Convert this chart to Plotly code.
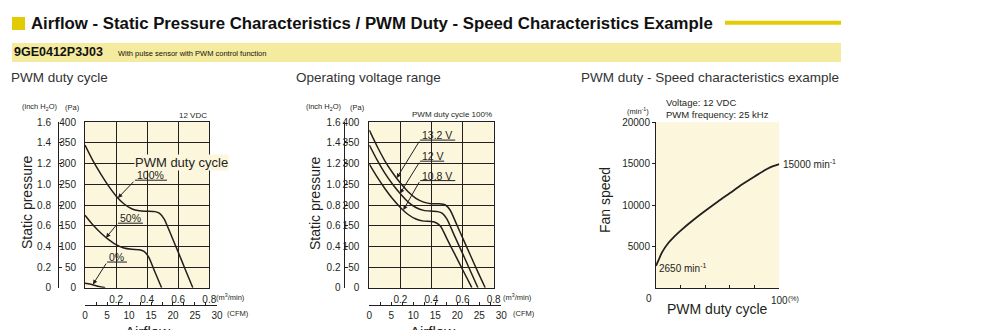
import plotly.graph_objects as go

W, H = 1000, 330
def px(x): return x / W
def py(y): return 1 - y / H

REG = "Liberation Sans, Arial, sans-serif"
INK = "#231F20"
CREAM = "#FCF6DC"
YEL = "#E2CB00"
BAND = "#F5EB9E"

# ---------------- data ----------------
# Chart 1: PWM duty cycle (12 VDC)
flow_100 = [0, 0.05, 0.1, 0.15, 0.2, 0.25, 0.3, 0.35, 0.4, 0.45, 0.48, 0.51, 0.55, 0.6, 0.65, 0.694]
pres_100 = [345, 308, 276, 247, 222, 203, 191, 186, 185, 184, 180, 166, 131, 86, 40, 0]
flow_50 = [0, 0.05, 0.1, 0.15, 0.2, 0.25, 0.3, 0.35, 0.38, 0.41, 0.45, 0.493]
pres_50 = [175, 152, 133, 117, 104, 96, 93, 92, 88, 74, 38, 0]
flow_0 = [0, 0.03, 0.06, 0.09, 0.13]
pres_0 = [11, 9, 6, 3, 0]

# Chart 2: operating voltage range (PWM 100%)
flow_132 = [0, 0.05, 0.1, 0.15, 0.2, 0.25, 0.3, 0.35, 0.4, 0.45, 0.49, 0.52, 0.56, 0.6, 0.65, 0.7, 0.746]
pres_132 = [381, 342, 307, 278, 253, 232, 216, 207, 203, 203, 200, 188, 155, 121, 79, 37, 0]
flow_120 = [0, 0.05, 0.1, 0.15, 0.2, 0.25, 0.3, 0.35, 0.4, 0.44, 0.47, 0.5, 0.55, 0.6, 0.65, 0.699]
pres_120 = [345, 309, 277, 250, 227, 207, 194, 187, 185, 184, 180, 166, 124, 83, 41, 0]
flow_108 = [0, 0.05, 0.1, 0.15, 0.2, 0.25, 0.3, 0.35, 0.4, 0.43, 0.46, 0.5, 0.55, 0.6, 0.66]
pres_108 = [299, 268, 240, 215, 194, 177, 166, 161, 160, 157, 148, 118, 81, 44, 0]

# Chart 3: PWM duty vs speed
duty = [0, 2, 5, 10, 15, 20, 30, 40, 50, 60, 70, 80, 90, 95, 100]
speed = [2650, 3300, 4300, 5400, 6200, 6900, 8150, 9300, 10400, 11450, 12500, 13450, 14350, 14700, 14950]

# ticks
m3_ticks = [0.2, 0.4, 0.6, 0.8]
m3_labels = ["0.2", "0.4", "0.6", "0.8"]
cfm_ticks = [0, 2.5, 5, 7.5, 10, 12.5, 15, 17.5, 20, 22.5, 25, 27.5, 30]
cfm_labels = ["0", "", "5", "", "10", "", "15", "", "20", "", "25", "", "30"]
pa_ticks = [0, 50, 100, 150, 200, 250, 300, 350, 400]
inch_ticks = [0, 0.2, 0.4, 0.6, 0.8, 1.0, 1.2, 1.4, 1.6]
inch_labels = ["0", "0.2", "0.4", "0.6", "0.8", "1.0", "1.2", "1.4", "1.6"]
speed_ticks = [5000, 10000, 15000, 20000]
speed_labels = ["5000", "10000", "15000", "20000"]
duty_ticks = [0, 20, 40, 60, 80, 100]
duty_labels = ["", "", "", "", "", "100"]
CFM_PER_M3 = 35.3147

PX_PER_M3 = 124.3 / 0.8

fig = go.Figure()
line = dict(color=INK, width=1.5, shape="spline", smoothing=0.6)
for xs, ys in [(flow_100, pres_100), (flow_50, pres_50), (flow_0, pres_0)]:
    fig.add_trace(go.Scatter(x=xs, y=ys, mode="lines", line=line, xaxis="x", yaxis="y",
                             hoverinfo="skip", showlegend=False))
for xs, ys in [(flow_132, pres_132), (flow_120, pres_120), (flow_108, pres_108)]:
    fig.add_trace(go.Scatter(x=xs, y=ys, mode="lines", line=line, xaxis="x3", yaxis="y3",
                             hoverinfo="skip", showlegend=False))
fig.add_trace(go.Scatter(x=duty, y=speed, mode="lines", line=dict(color=INK, width=1.8, shape="spline"),
                         xaxis="x5", yaxis="y5", hoverinfo="skip", showlegend=False))
# empty traces so the auxiliary (CFM / inch H2O) axes get drawn
for xa, ya in [("x2", "y6"), ("x", "y2"), ("x4", "y7"), ("x3", "y4")]:
    fig.add_trace(go.Scatter(x=[None], y=[None], xaxis=xa, yaxis=ya, showlegend=False, hoverinfo="skip"))

L1, L2, L3 = 85, 369.3, 656
TOP, BOT = 122.3, 287.7
ydom = [py(BOT), py(TOP)]
d1 = [px(L1), px(L1 + 124.3)]
d2 = [px(L2), px(L2 + 124.3)]
d3 = [px(L3), px(779.3)]
tickfont = dict(family=REG, size=10, color=INK)

def main_x(dom, anchor):
    return dict(domain=dom, anchor=anchor, range=[0, 0.8], tickvals=m3_ticks, ticktext=m3_labels,
                showgrid=True, gridcolor=INK, gridwidth=1, showline=True, linecolor=INK, linewidth=1,
                mirror=True, ticks="", zeroline=False, tickfont=tickfont, ticklabelstandoff=2,
                automargin=False, fixedrange=True)

def main_y(anchor, standoff):
    return dict(domain=ydom, anchor=anchor, range=[0, 400], tickvals=pa_ticks, showgrid=True,
                gridcolor=INK, gridwidth=1, showline=True, linecolor=INK, linewidth=1, mirror=True,
                ticks="", zeroline=False, tickfont=tickfont, ticklabelstandoff=standoff,
                automargin=False, fixedrange=True)

def cfm_x(left, anchor):
    return dict(domain=[px(left), px(left + 30 / CFM_PER_M3 * PX_PER_M3)], anchor=anchor, side="bottom",
                range=[0, 30], tickvals=cfm_ticks, ticktext=cfm_labels, showgrid=False, showline=True,
                linecolor=INK, linewidth=1, ticks="inside", ticklen=3, tickcolor=INK,
                zeroline=False, tickfont=tickfont, ticklabelstandoff=1, automargin=False, fixedrange=True)

def inch_y(over, pos, standoff):
    return dict(overlaying=over, anchor="free", position=pos, side="left", range=[0, 1.6],
                tickvals=inch_ticks, ticktext=inch_labels, showgrid=False, showline=True,
                linecolor=INK, linewidth=1, ticks="inside", ticklen=3, tickcolor=INK,
                zeroline=False, tickfont=tickfont, ticklabelstandoff=standoff, automargin=False,
                fixedrange=True)

def dummy_y():
    return dict(domain=[py(305.2), py(305)], showline=False, showgrid=False, zeroline=False,
                showticklabels=False, ticks="", range=[0, 1], automargin=False, fixedrange=True)

fig.update_layout(
    width=W, height=H, autosize=False, margin=dict(l=0, r=0, t=0, b=0, autoexpand=False),
    paper_bgcolor="white", plot_bgcolor="rgba(0,0,0,0)", showlegend=False,
    xaxis=main_x(d1, "y"), yaxis=main_y("x", 6),
    xaxis2=cfm_x(L1, "y6"), yaxis2=inch_y("y", px(58), 5),
    xaxis3=main_x(d2, "y3"), yaxis3=main_y("x3", 7),
    xaxis4=cfm_x(L2, "y7"), yaxis4=inch_y("y3", px(343.5), 1),
    yaxis6=dummy_y(), yaxis7=dummy_y(),
    xaxis5=dict(domain=d3, anchor="y5", range=[0, 100], tickvals=duty_ticks, ticktext=duty_labels,
                showgrid=False, showline=True, linecolor=INK, linewidth=1, ticks="inside", ticklen=3,
                tickcolor=INK, zeroline=False, tickfont=tickfont, ticklabelstandoff=3,
                automargin=False, fixedrange=True),
    yaxis5=dict(domain=ydom, anchor="x5", range=[0, 20000], tickvals=speed_ticks, ticktext=speed_labels,
                showgrid=False, showline=True, linecolor=INK, linewidth=1, ticks="outside", ticklen=3,
                tickcolor=INK, zeroline=False, tickfont=tickfont, ticklabelstandoff=0,
                automargin=False, fixedrange=True),
)

# ---------------- shapes ----------------
shapes = [
    dict(type="rect", xref="paper", yref="paper", x0=px(12), x1=px(25), y0=py(30), y1=py(17),
         fillcolor=YEL, line=dict(width=0)),
    dict(type="line", xref="paper", yref="paper", x0=px(725), x1=px(841), y0=py(22.7), y1=py(22.7),
         line=dict(color=YEL, width=4)),
    dict(type="rect", xref="paper", yref="paper", x0=px(12), x1=px(841), y0=py(62), y1=py(43),
         fillcolor=BAND, line=dict(width=0), layer="below"),
]
for dom in (d1, d2, d3):
    shapes.append(dict(type="rect", xref="paper", yref="paper", x0=dom[0], x1=dom[1],
                       y0=ydom[0], y1=ydom[1], fillcolor=CREAM, line=dict(width=0), layer="below"))

ann = []
def text(x, y, s, size=11, xanchor="left", yanchor="middle", color=INK, angle=0, bg=None, **kw):
    d = dict(x=x, y=y, text=s, showarrow=False, xanchor=xanchor, yanchor=yanchor,
             font=dict(family=REG, size=size, color=color), textangle=angle, borderpad=0, **kw)
    if bg:
        d["bgcolor"] = bg
    d.setdefault("xref", "paper")
    d.setdefault("yref", "paper")
    ann.append(d)

text(px(30), py(23), "<b>Airflow - Static Pressure Characteristics / PWM Duty - Speed Characteristics Example</b>",
     size=16.8, color="#111")
text(px(13), py(52.5), "<b>9GE0412P3J03</b>", size=12.5, color="#111")
text(px(117), py(53), "With pulse sensor with PWM control function", size=7.5, color="#111")

# chart titles
text(px(10), py(77), "PWM duty cycle", size=13.5, color="#333")
text(px(295), py(77), "Operating voltage range", size=13.5, color="#333")
text(px(580), py(77), "PWM duty - Speed characteristics example", size=13.5, color="#333")

# chart 1 texts
text(px(21), py(107.5), "(inch H<sub>2</sub>O)", size=7.5)
text(px(64), py(107.5), "(Pa)", size=7.5)
text(px(27), py(202), "Static pressure", size=14, xanchor="center", angle=-90)
text(px(208), py(115), "12 VDC", size=8, xanchor="right")
text(px(215), py(297), "(m<sup>3</sup>/min)", size=7.5)
text(px(226), py(313), "(CFM)", size=7.5)
text(px(147), py(322), "Airflow", size=15, xanchor="center", yanchor="top")

# chart 2 texts
text(px(343), py(107.5), "(inch H<sub>2</sub>O)", size=7.5, xanchor="right")
text(px(349), py(107.5), "(Pa)", size=7.5)
text(px(315), py(203), "Static pressure", size=14, xanchor="center", angle=-90)
text(px(493), py(114), "PWM duty cycle 100%", size=8, xanchor="right")
text(px(502), py(297), "(m<sup>3</sup>/min)", size=7.5)
text(px(512), py(313), "(CFM)", size=7.5)
text(px(432), py(322), "Airflow", size=15, xanchor="center", yanchor="top")

# chart 3 texts
text(px(626), py(110.5), "(min<sup>-1</sup>)", size=7.5)
text(px(665), py(102.5), "Voltage: 12 VDC", size=9.5)
text(px(665), py(114.5), "PWM frequency: 25 kHz", size=9.5)
text(px(605), py(200), "Fan speed", size=14, xanchor="center", angle=-90)
text(px(782), py(164), "15000 min<sup>-1</sup>", size=10)
text(px(658), py(268), "2650 min<sup>-1</sup>", size=10)
text(px(649), py(298), "0", size=10, xanchor="center")
text(px(787), py(299), "(%)", size=7)
text(px(717), py(309), "PWM duty cycle", size=14, xanchor="center")

# ---------------- curve labels with leaders ----------------
def leader(xa, ya, x0, x1, yline, label, tipx, tipy, size=10.5):
    shapes.append(dict(type="line", xref=xa, yref=ya, x0=x0, x1=x1, y0=yline, y1=yline,
                       line=dict(color=INK, width=1)))
    ann.append(dict(x=tipx, y=tipy, xref=xa, yref=ya, ax=x0, ay=yline, axref=xa, ayref=ya,
                    text="", showarrow=True, arrowhead=2, arrowsize=0.9, arrowwidth=1,
                    arrowcolor=INK, standoff=0))
    ann.append(dict(x=x0 + 0.006, y=yline + 12, xref=xa, yref=ya, text=label, borderpad=0,
                    showarrow=False, xanchor="left", yanchor="middle",
                    font=dict(family=REG, size=size, color=INK)))

text(0.318, 303, "PWM duty cycle", size=13, xref="x", yref="y", bg=CREAM)
leader("x", "y", 0.322, 0.528, 260, "100%", 0.212, 217)
leader("x", "y", 0.212, 0.373, 156, "50%", 0.135, 121)
leader("x", "y", 0.142, 0.27, 62, "0%", 0.051, 8)

leader("x3", "y3", 0.327, 0.553, 357, "13.2 V", 0.176, 265)
leader("x3", "y3", 0.327, 0.482, 306, "12 V", 0.198, 228)
leader("x3", "y3", 0.327, 0.553, 259, "10.8 V", 0.219, 188)

fig.update_layout(shapes=shapes, annotations=ann)
fig.write_html("out.html")
